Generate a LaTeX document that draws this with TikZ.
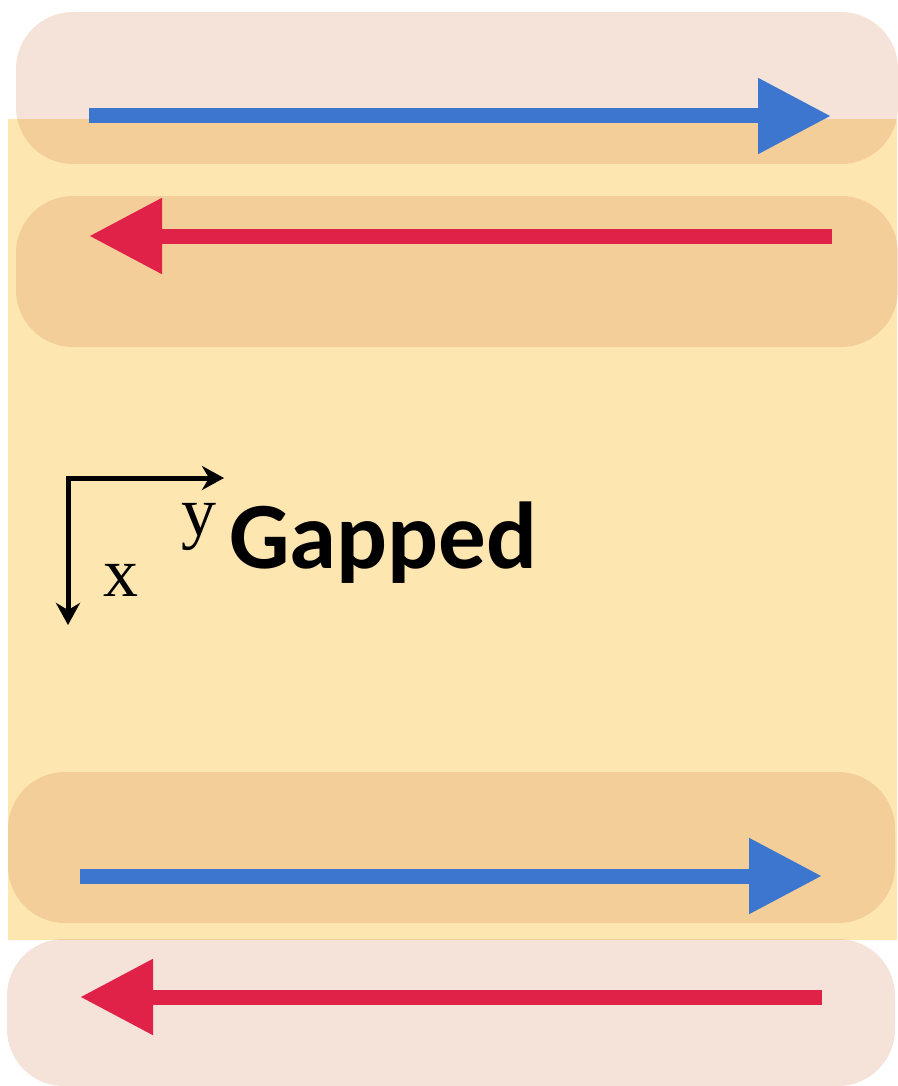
\documentclass[tikz,border=0pt]{standalone}
\usepackage{fontspec}
\setmainfont{Liberation Serif}
\newfontfamily\labelfont{Carlito}
\usetikzlibrary{arrows.meta}
\definecolor{slab}{RGB}{253,230,176}
\definecolor{band}{RGB}{205,110,60}
\definecolor{upblue}{RGB}{61,118,207}
\definecolor{downred}{RGB}{224,34,73}

\begin{document}
\begin{tikzpicture}[x=1pt, y=-1pt, line width=0.6pt,
  lane/.style={fill=band, fill opacity=0.2, rounded corners=57pt},
  flow/.style={-{Triangle[length=73pt, width=72pt]}, line width=15pt},
  axis/.style={{Stealth[length=22pt, width=24pt, inset=7pt]}-{Stealth[length=22pt, width=24pt, inset=7pt]}, line width=5pt, line join=miter}]
  \useasboundingbox (0,0) rectangle (897,1086);
  \fill[slab] (8,119) rectangle (897,940);
  \fill[lane] (16,12) rectangle (898,164);
  \fill[lane] (16,196) rectangle (898,347);
  \fill[lane] (8,772) rectangle (895,923);
  \fill[lane] (7,939) rectangle (895,1086);
  \coordinate (b1s) at (89,116);  \coordinate (b1e) at (831,116);
  \coordinate (r1s) at (832,236); \coordinate (r1e) at (89,236);
  \coordinate (b2s) at (80,876);  \coordinate (b2e) at (822,876);
  \coordinate (r2s) at (822,997); \coordinate (r2e) at (80,997);
  \draw[flow, upblue] (b1s) -- (b1e);
  \draw[flow, downred] (r1s) -- (r1e);
  \draw[flow, upblue] (b2s) -- (b2e);
  \draw[flow, downred] (r2s) -- (r2e);
  \coordinate (xtip) at (68,625);
  \coordinate (ytip) at (224,478);
  \draw[axis] (xtip) |- (ytip);
  \node[font=\fontsize{70}{70}\selectfont, inner sep=0pt, anchor=base west] (xlab) at (103,596) {x};
  \node[font=\fontsize{70}{70}\selectfont, inner sep=0pt, anchor=base west] (ylab) at (181,535) {y};
  \node[font=\labelfont\bfseries\fontsize{95}{95}\selectfont, inner sep=0pt, anchor=base west] (title) at (229,568) {Gapped};
\end{tikzpicture}
\end{document}
